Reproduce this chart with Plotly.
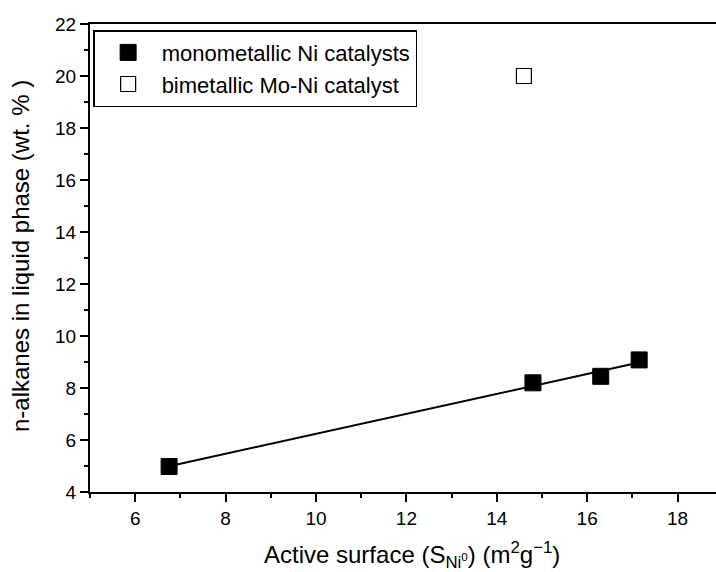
import numpy as np
import plotly.graph_objects as go

# Data
mono_x = [6.75, 14.8, 16.3, 17.15]
mono_y = [4.98, 8.2, 8.45, 9.08]
bi_x = [14.6]
bi_y = [20.0]

x_ticks = [6, 8, 10, 12, 14, 16, 18]
y_ticks = [4, 6, 8, 10, 12, 14, 16, 18, 20, 22]

# linear fit of the monometallic catalysts
slope, intercept = np.polyfit(mono_x, mono_y, 1)
fit_x = [min(mono_x), max(mono_x)]
fit_y = [slope * v + intercept for v in fit_x]

FONT = "Liberation Sans, Arial, sans-serif"

fig = go.Figure()
fig.add_trace(go.Scatter(x=fit_x, y=fit_y, mode="lines",
                         line=dict(color="black", width=2),
                         showlegend=False, hoverinfo="skip"))
fig.add_trace(go.Scatter(x=mono_x, y=mono_y, mode="markers",
                         name="monometallic Ni catalysts",
                         marker=dict(symbol="square", size=16, color="black",
                                     line=dict(color="black", width=1))))
fig.add_trace(go.Scatter(x=bi_x, y=bi_y, mode="markers",
                         name="bimetallic Mo-Ni catalyst",
                         marker=dict(symbol="square", size=15, color="white",
                                     line=dict(color="black", width=1.2))))

axis_common = dict(showgrid=False, zeroline=False, showline=True,
                   linecolor="black", linewidth=2, ticks="outside",
                   ticklen=8, tickwidth=1.5, tickcolor="black",
                   tickfont=dict(family=FONT, size=19, color="black"))

fig.update_xaxes(range=[5, 18.85], tickvals=x_ticks, mirror=True,
                 minor=dict(dtick=1, tick0=0, ticks="outside", ticklen=4,
                            tickwidth=1.5, tickcolor="black"),
                 **axis_common)
fig.update_yaxes(range=[4, 22], tickvals=y_ticks, mirror=False,
                 minor=dict(dtick=1, tick0=0, ticks="outside", ticklen=4,
                            tickwidth=1.5, tickcolor="black"),
                 **axis_common)

fig.add_annotation(text="Active surface (S<sub>Ni<sup>0</sup></sub>) (m<sup>2</sup>g<sup>\u22121</sup>)",
                   xref="paper", yref="paper", x=(412 - 90) / 626, y=-(555 - 492) / 468,
                   showarrow=False, xanchor="center", yanchor="middle",
                   font=dict(family=FONT, size=24, color="black"))
fig.add_annotation(text="n-alkanes in liquid phase (wt. % )",
                   xref="paper", yref="paper", x=-(90 - 20) / 626, y=1 - (256 - 24) / 468,
                   showarrow=False, textangle=-90, xanchor="center", yanchor="middle",
                   font=dict(family=FONT, size=24, color="black"))

fig.update_layout(
    width=716, height=572,
    margin=dict(l=90, r=0, t=24, b=80),
    paper_bgcolor="white", plot_bgcolor="white",
    font=dict(family=FONT, size=19, color="black"),
    legend=dict(x=0.005, y=0.987, xanchor="left", yanchor="top",
                bordercolor="black", borderwidth=1.5, bgcolor="white",
                font=dict(family=FONT, size=22, color="black"),
                itemwidth=57, tracegroupgap=0),
)

fig.write_html("out.html")
